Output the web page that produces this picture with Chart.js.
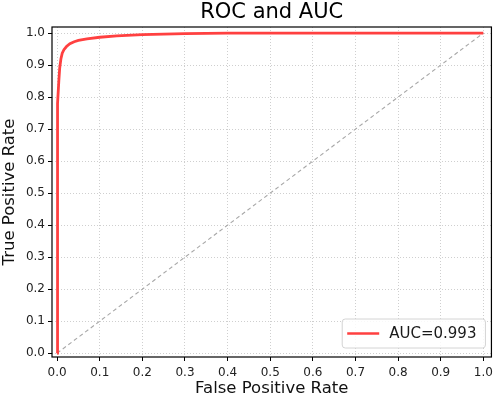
<!DOCTYPE html>
<html>
<head>
<meta charset="utf-8">
<script src="https://cdn.jsdelivr.net/npm/chart.js@4/dist/chart.umd.min.js"></script>
<style>
  html, body { margin: 0; padding: 0; background: #ffffff; }
  #c { display: block; }
</style>
</head>
<body>
<canvas id="c" width="498" height="399"></canvas>
<script>
// ---- Data ----
const fpr = [0.0, 0.0, 0.001, 0.002, 0.004, 0.006, 0.009, 0.012, 0.016, 0.022, 0.03, 0.04, 0.05, 0.07, 0.1, 0.14, 0.2, 0.3, 0.4, 0.5, 0.7, 1.0];
const tpr = [0.0, 0.6, 0.7, 0.78, 0.85, 0.89, 0.92, 0.937, 0.948, 0.958, 0.967, 0.973, 0.977, 0.982, 0.987, 0.991, 0.995, 0.998, 1.0, 1.0, 1.0, 1.0];
const diagX = [0.0, 1.0];
const diagY = [0.0, 1.0];
const xTickValues = [0.0, 0.1, 0.2, 0.3, 0.4, 0.5, 0.6, 0.7, 0.8, 0.9, 1.0];
const xTickLabels = ["0.0", "0.1", "0.2", "0.3", "0.4", "0.5", "0.6", "0.7", "0.8", "0.9", "1.0"];
const yTickValues = [0.0, 0.1, 0.2, 0.3, 0.4, 0.5, 0.6, 0.7, 0.8, 0.9, 1.0];
const yTickLabels = ["0.0", "0.1", "0.2", "0.3", "0.4", "0.5", "0.6", "0.7", "0.8", "0.9", "1.0"];
const titleText = "ROC and AUC";
const xLabel = "False Positive Rate";
const yLabel = "True Positive Rate";
const aucLabel = "AUC=0.993";

const FONT = "'DejaVu Sans', sans-serif";
const RED = "rgb(255,64,64)";

const framePlugin = {
  id: 'frame',
  afterDatasetsDraw(chart) {
    const a = chart.chartArea;
    const ctx = chart.ctx;
    ctx.save();
    ctx.strokeStyle = '#000000';
    ctx.lineWidth = 1.2;
    ctx.strokeRect(a.left, a.top, a.right - a.left, a.bottom - a.top);
    ctx.restore();
  },
  afterDraw(chart) {
    // legend box in lower right of the axes
    const a = chart.chartArea;
    const ctx = chart.ctx;
    const ds = chart.data.datasets[0];
    ctx.save();
    ctx.font = "15px " + FONT;
    const tw = ctx.measureText(ds.label).width;
    const bh = 29;
    const bx1 = a.right - 6;
    const by2 = a.bottom - 9;
    const bw = 5 + 32 + 10 + tw + 9;
    const bx0 = bx1 - bw;
    const by0 = by2 - bh;
    const r = 3;
    ctx.beginPath();
    ctx.moveTo(bx0 + r, by0);
    ctx.lineTo(bx1 - r, by0);
    ctx.quadraticCurveTo(bx1, by0, bx1, by0 + r);
    ctx.lineTo(bx1, by2 - r);
    ctx.quadraticCurveTo(bx1, by2, bx1 - r, by2);
    ctx.lineTo(bx0 + r, by2);
    ctx.quadraticCurveTo(bx0, by2, bx0, by2 - r);
    ctx.lineTo(bx0, by0 + r);
    ctx.quadraticCurveTo(bx0, by0, bx0 + r, by0);
    ctx.closePath();
    ctx.fillStyle = 'rgba(255,255,255,0.85)';
    ctx.fill();
    ctx.strokeStyle = '#d4d4d4';
    ctx.lineWidth = 1;
    ctx.stroke();
    const cy = (by0 + by2) / 2;
    ctx.strokeStyle = ds.borderColor;
    ctx.lineWidth = 2.5;
    ctx.beginPath();
    ctx.moveTo(bx0 + 5, cy);
    ctx.lineTo(bx0 + 37, cy);
    ctx.stroke();
    ctx.fillStyle = '#1a1a1a';
    ctx.textBaseline = 'middle';
    ctx.textAlign = 'left';
    ctx.fillText(ds.label, bx0 + 47, cy + 0.5);
    ctx.restore();
  }
};

const gridOpts = {
  color: '#cfcfcf',
  lineWidth: 1,
  drawTicks: true,
  tickLength: 4,
  tickColor: '#000000',
  tickWidth: 1,
  tickBorderDash: []
};

const ctx = document.getElementById('c').getContext('2d');
new Chart(ctx, {
  type: 'scatter',
  data: {
    datasets: [
      {
        label: aucLabel,
        data: fpr.map((x, i) => ({ x: x, y: tpr[i] })),
        showLine: true,
        borderColor: RED,
        backgroundColor: RED,
        borderWidth: 2.8,
        pointRadius: 0,
        tension: 0,
        order: 0
      },
      {
        label: 'diagonal',
        data: diagX.map((x, i) => ({ x: x, y: diagY[i] })),
        showLine: true,
        borderColor: '#a8a8a8',
        borderWidth: 1.1,
        borderDash: [4, 3],
        pointRadius: 0,
        order: 1
      }
    ]
  },
  plugins: [framePlugin],
  options: {
    responsive: false,
    animation: false,
    devicePixelRatio: 1,
    layout: { padding: { left: 0, right: 4, top: 0, bottom: 0 } },
    plugins: {
      legend: { display: false },
      tooltip: { enabled: false },
      title: {
        display: true,
        text: titleText,
        fullSize: false,
        color: '#000000',
        font: { family: FONT, size: 21, weight: 'normal', lineHeight: 25 / 21 },
        padding: { top: 0, bottom: 2 }
      }
    },
    scales: {
      x: {
        type: 'linear',
        min: -0.012,
        max: 1.019,
        afterBuildTicks(scale) { scale.ticks = xTickValues.map(v => ({ value: v })); },
        afterFit(scale) { scale.height = 42; },
        border: { display: false, dash: [1, 2] },
        grid: gridOpts,
        ticks: {
          callback: (v, i) => xTickLabels[i],
          color: '#222222',
          font: { family: FONT, size: 12 },
          padding: 5,
          maxRotation: 0,
          autoSkip: false
        },
        title: {
          display: true,
          text: xLabel,
          color: '#111111',
          font: { family: FONT, size: 16.5, lineHeight: 1.2 },
          padding: { top: 0, bottom: 0 }
        }
      },
      y: {
        type: 'linear',
        min: -0.012,
        max: 1.019,
        afterBuildTicks(scale) { scale.ticks = yTickValues.map(v => ({ value: v })); },
        afterFit(scale) { scale.width = 52; },
        border: { display: false, dash: [1, 2] },
        grid: gridOpts,
        ticks: {
          callback: (v, i) => yTickLabels[i],
          color: '#222222',
          font: { family: FONT, size: 12 },
          padding: 3,
          autoSkip: false
        },
        title: {
          display: true,
          text: yLabel,
          color: '#111111',
          font: { family: FONT, size: 16.5, lineHeight: 1.2 },
          padding: { top: 0, bottom: 0 }
        }
      }
    }
  }
});
</script>
</body>
</html>
